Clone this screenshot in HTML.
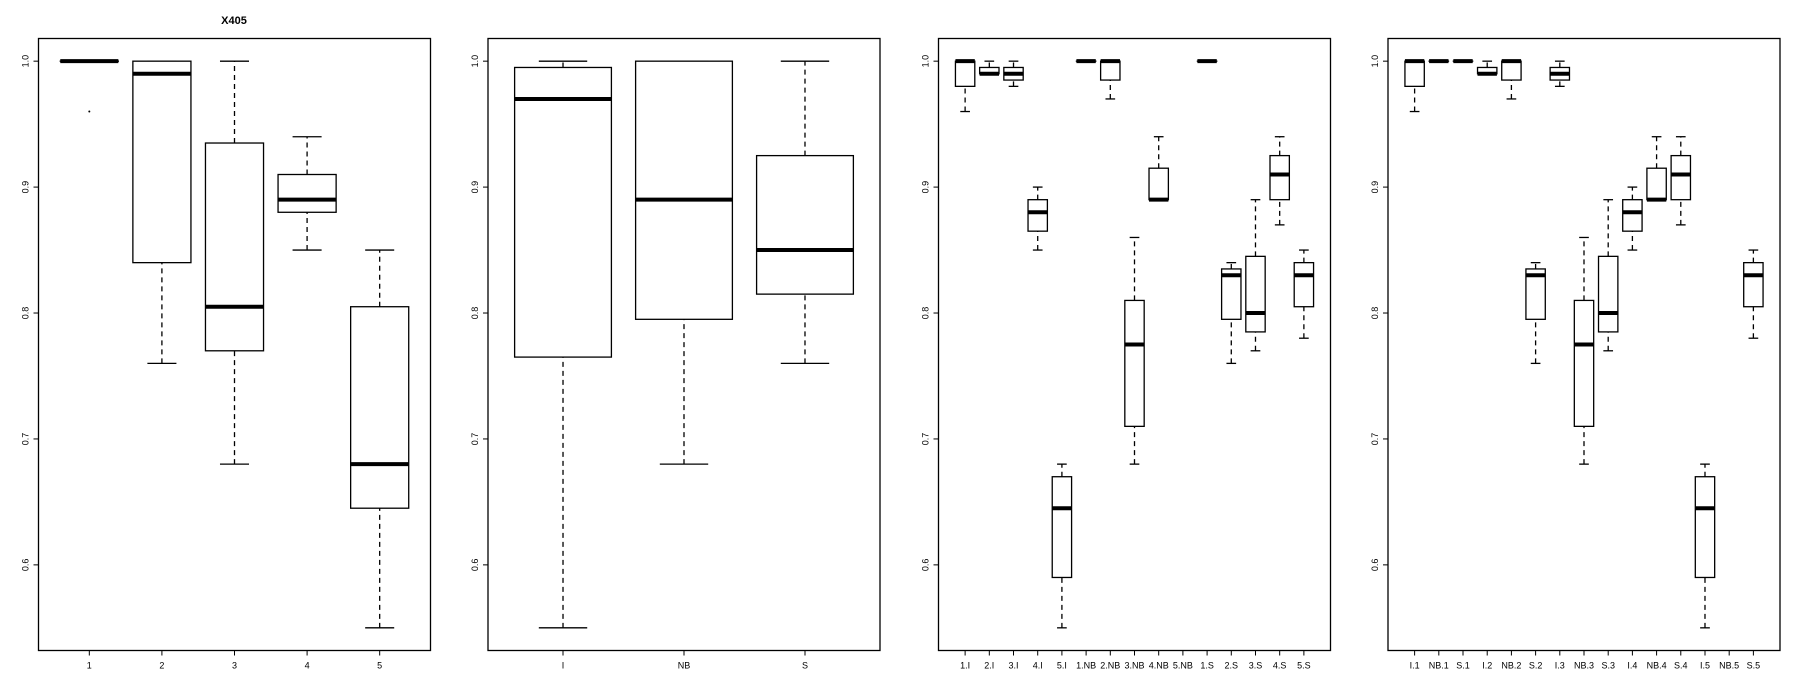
<!DOCTYPE html>
<html><head><meta charset="utf-8"><style>
html,body{margin:0;padding:0;background:#fff;}
svg{display:block;font-family:"Liberation Sans",Arial,sans-serif;}
</style></head><body>
<svg id="chart" width="1800" height="700" viewBox="0 0 1800 700" xmlns="http://www.w3.org/2000/svg">
<text x="234" y="24" text-anchor="middle" font-size="11" font-weight="bold">X405</text>
</svg>
<script>
// stats per group: [low whisker, Q1, median, Q3, high whisker]
const p1Categories = ["1","2","3","4","5"];
const p1Stats = [[1.0,1.0,1.0,1.0,1.0],[0.76,0.84,0.99,1.0,1.0],[0.68,0.77,0.805,0.935,1.0],[0.85,0.88,0.89,0.91,0.94],[0.55,0.645,0.68,0.805,0.85]];
const p1Outliers = [[0.96],[],[],[],[]];
const p2Categories = ["I","NB","S"];
const p2Stats = [[0.55,0.765,0.97,0.995,1.0],[0.68,0.795,0.89,1.0,1.0],[0.76,0.815,0.85,0.925,1.0]];
const p3Categories = ["1.I","2.I","3.I","4.I","5.I","1.NB","2.NB","3.NB","4.NB","5.NB","1.S","2.S","3.S","4.S","5.S"];
const p3Stats = [[0.96,0.98,1.0,1.0,1.0],[0.99,0.99,0.99,0.995,1.0],[0.98,0.985,0.99,0.995,1.0],[0.85,0.865,0.88,0.89,0.90],[0.55,0.59,0.645,0.67,0.68],
[1.0,1.0,1.0,1.0,1.0],[0.97,0.985,1.0,1.0,1.0],[0.68,0.71,0.775,0.81,0.86],[0.89,0.89,0.89,0.915,0.94],null,
[1.0,1.0,1.0,1.0,1.0],[0.76,0.795,0.83,0.835,0.84],[0.77,0.785,0.80,0.845,0.89],[0.87,0.89,0.91,0.925,0.94],[0.78,0.805,0.83,0.84,0.85]];
const p4Categories = ["I.1","NB.1","S.1","I.2","NB.2","S.2","I.3","NB.3","S.3","I.4","NB.4","S.4","I.5","NB.5","S.5"];
const p4Stats = [p3Stats[0],p3Stats[5],p3Stats[10],p3Stats[1],p3Stats[6],p3Stats[11],p3Stats[2],p3Stats[7],p3Stats[12],p3Stats[3],p3Stats[8],p3Stats[13],p3Stats[4],p3Stats[9],p3Stats[14]];
const yTicks = [0.6,0.7,0.8,0.9,1.0];
const yTickLabels = ["0.6","0.7","0.8","0.9","1.0"];

const NS="http://www.w3.org/2000/svg";
const svgEl=document.getElementById('chart');
function mk(tag,attrs,parent){const e=document.createElementNS(NS,tag);for(const k in attrs)e.setAttribute(k,attrs[k]);(parent||svgEl).appendChild(e);return e;}
const plotTop=38.5, plotBottom=650.5, ymin=0.532, ymax=1.018;
function yScale(v){return plotBottom-(v-ymin)/(ymax-ymin)*(plotBottom-plotTop);}

function panel(idx,left,cats,stats,outs){
  const right=left+392;
  const g=mk('g',{});
  
  
  const n=cats.length;
  const lo=0.5-0.04*n, hi=n+0.5+0.04*n;
  const xs=v=>left+(v-lo)/(hi-lo)*(right-left);
  const unit=(right-left)/(hi-lo);
  const frame=mk('rect',{x:left,y:plotTop,width:right-left,height:plotBottom-plotTop,fill:'none',stroke:'#000','stroke-width':1.3},g);
  
  
  yTicks.forEach((t,i)=>{
    const y=yScale(t);
    mk('line',{x1:left-5,x2:left,y1:y,y2:y,stroke:'#000','stroke-width':1},g);
    const tx=mk('text',{x:left-10,y:y,'font-size':9,'text-anchor':'middle',transform:`rotate(-90 ${left-10} ${y})`},g);
    tx.textContent=yTickLabels[i];
    
    
  });
  cats.forEach((c,i)=>{
    const x=xs(i+1);
    mk('line',{x1:x,x2:x,y1:plotBottom,y2:plotBottom+5,stroke:'#000','stroke-width':1},g);
    const tx=mk('text',{x:x,y:plotBottom+18,'font-size':9,'text-anchor':'middle'},g);
    tx.textContent=c;
    
    
    const s=stats[i]; if(!s) return;
    const bg=mk('g',{},g);
    
    
    const bw=unit*0.4, cw=unit*0.2;
    const [w0,q1,md,q3,w1]=s.map(yScale);
    mk('line',{x1:x,x2:x,y1:w0,y2:q1,stroke:'#000','stroke-width':1.3,'stroke-dasharray':'5,4'},bg);
    mk('line',{x1:x,x2:x,y1:q3,y2:w1,stroke:'#000','stroke-width':1.3,'stroke-dasharray':'5,4'},bg);
    mk('line',{x1:x-cw,x2:x+cw,y1:w0,y2:w0,stroke:'#000','stroke-width':1.3},bg);
    mk('line',{x1:x-cw,x2:x+cw,y1:w1,y2:w1,stroke:'#000','stroke-width':1.3},bg);
    mk('rect',{x:x-bw,y:q3,width:2*bw,height:Math.max(q1-q3,0.01),fill:'#fff',stroke:'#000','stroke-width':1.3},bg);
    mk('line',{x1:x-bw,x2:x+bw,y1:md,y2:md,stroke:'#000','stroke-width':4},bg);
    if(outs&&outs[i]) outs[i].forEach(o=>{
      const pt=mk('circle',{cx:x,cy:yScale(o),r:1,fill:'#000'},bg);
      
      
    });
  });
}
panel(0,38.5,p1Categories,p1Stats,p1Outliers);
panel(1,488,p2Categories,p2Stats,null);
panel(2,938.5,p3Categories,p3Stats,null);
panel(3,1388,p4Categories,p4Stats,null);
</script>
</body></html>
